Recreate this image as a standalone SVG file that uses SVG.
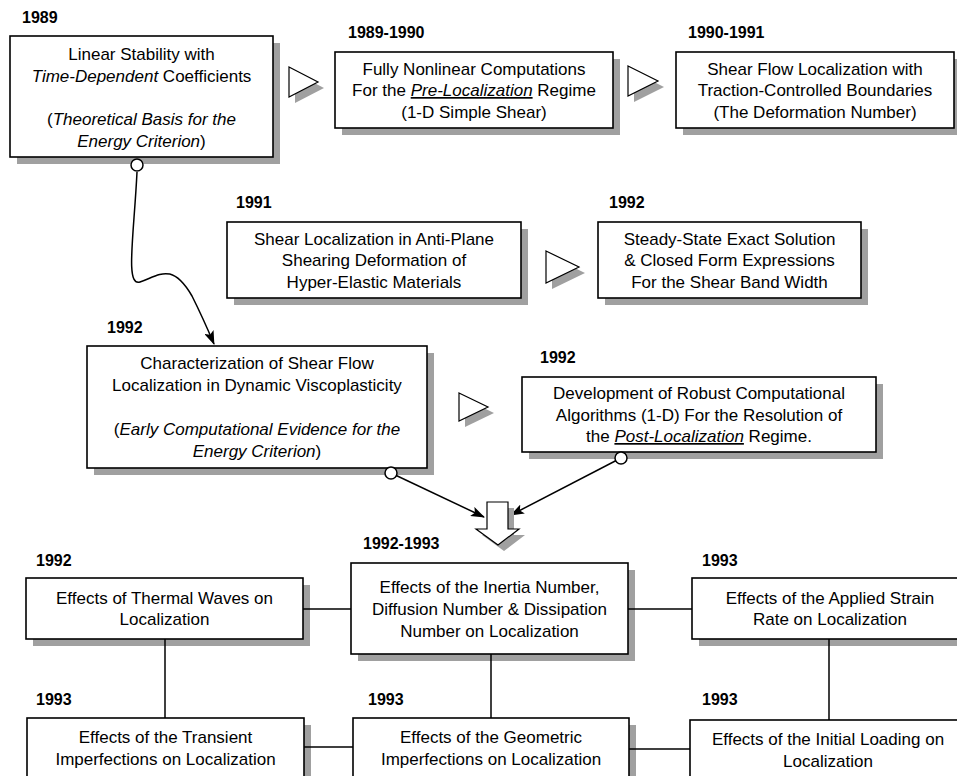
<svg xmlns="http://www.w3.org/2000/svg" width="957" height="776" viewBox="0 0 957 776">
<style>
text{font-family:"Liberation Sans",Arial,Helvetica,sans-serif;fill:#000}
.t{font-size:17px;text-anchor:middle}
.yr{font-size:16px;font-weight:bold}
.i{font-style:italic}
.u{text-decoration:underline}
.box{fill:#fff;stroke:#000;stroke-width:1.6}
.sh{fill:#a0a0a0}
.ln{fill:none;stroke:#000;stroke-width:1.5}
.tri{fill:#fff;stroke:#000;stroke-width:1.2;stroke-linejoin:miter}
.circ{fill:#fff;stroke:#000;stroke-width:1.5}
</style>
<defs>
<marker id="ah" viewBox="0 0 14 10" refX="13" refY="5" markerWidth="14" markerHeight="10" markerUnits="userSpaceOnUse" orient="auto">
<path d="M0,0 L14,5 L0,10 L3,5 z" fill="#000"/>
</marker>
</defs>
<rect width="957" height="776" fill="#fff"/>

<g id="n1989">
<rect class="sh" x="17" y="43" width="263" height="121"/>
<rect class="box" x="10" y="36" width="263" height="121"/>
<text class="yr" x="22" y="23">1989</text>
<text class="t" x="141.5" y="60">Linear Stability with</text>
<text class="t" x="141.5" y="82"><tspan class="i">Time-Dependent</tspan> Coefficients</text>
<text class="t" x="141.5" y="125">(<tspan class="i">Theoretical Basis for the</tspan></text>
<text class="t" x="141.5" y="147"><tspan class="i">Energy Criterion</tspan>)</text>
</g>

<g id="n1989-1990">
<rect class="sh" x="342" y="59" width="278" height="76"/>
<rect class="box" x="335" y="52" width="278" height="76"/>
<text class="yr" x="348" y="38">1989-1990</text>
<text class="t" x="474" y="74.5">Fully Nonlinear Computations</text>
<text class="t" x="474" y="96">For the <tspan class="i u">Pre-Localization</tspan> Regime</text>
<text class="t" x="474" y="117.5">(1-D Simple Shear)</text>
</g>

<g id="n1990-1991">
<rect class="sh" x="683" y="59" width="278" height="76"/>
<rect class="box" x="676" y="52" width="278" height="76"/>
<text class="yr" x="688" y="38">1990-1991</text>
<text class="t" x="815" y="74.5">Shear Flow Localization with</text>
<text class="t" x="815" y="96">Traction-Controlled Boundaries</text>
<text class="t" x="815" y="117.5">(The Deformation Number)</text>
</g>

<g id="n1991">
<rect class="sh" x="234" y="229" width="294" height="76"/>
<rect class="box" x="227" y="222" width="294" height="76"/>
<text class="yr" x="236" y="208">1991</text>
<text class="t" x="374" y="244.5">Shear Localization in Anti-Plane</text>
<text class="t" x="374" y="266">Shearing Deformation of</text>
<text class="t" x="374" y="287.5">Hyper-Elastic Materials</text>
</g>

<g id="n1992a">
<rect class="sh" x="605" y="229" width="263" height="76"/>
<rect class="box" x="598" y="222" width="263" height="76"/>
<text class="yr" x="609" y="208">1992</text>
<text class="t" x="729.5" y="244.5">Steady-State Exact Solution</text>
<text class="t" x="729.5" y="266">&amp; Closed Form Expressions</text>
<text class="t" x="729.5" y="287.5">For the Shear Band Width</text>
</g>

<g id="n1992b">
<rect class="sh" x="94" y="353" width="340" height="122"/>
<rect class="box" x="87" y="346" width="340" height="122"/>
<text class="yr" x="107" y="333">1992</text>
<text class="t" x="257" y="369">Characterization of Shear Flow</text>
<text class="t" x="257" y="391">Localization in Dynamic Viscoplasticity</text>
<text class="t" x="257" y="435">(<tspan class="i">Early Computational Evidence for the</tspan></text>
<text class="t" x="257" y="457"><tspan class="i">Energy Criterion</tspan>)</text>
</g>

<g id="n1992c">
<rect class="sh" x="529" y="384" width="354" height="75"/>
<rect class="box" x="522" y="377" width="354" height="75"/>
<text class="yr" x="540" y="363">1992</text>
<text class="t" x="699" y="399">Development of Robust Computational</text>
<text class="t" x="699" y="421">Algorithms (1-D) For the Resolution of</text>
<text class="t" x="699" y="442">the <tspan class="i u">Post-Localization</tspan> Regime.</text>
</g>

<g id="n1992d">
<rect class="sh" x="33" y="585" width="277" height="61"/>
<rect class="box" x="26" y="578" width="277" height="61"/>
<text class="yr" x="36" y="566">1992</text>
<text class="t" x="164.5" y="603.5">Effects of Thermal Waves on</text>
<text class="t" x="164.5" y="625">Localization</text>
</g>

<g id="n1992-1993">
<rect class="sh" x="358" y="570" width="277" height="91"/>
<rect class="box" x="351" y="563" width="277" height="91"/>
<text class="yr" x="363" y="549">1992-1993</text>
<text class="t" x="489.5" y="592.5">Effects of the Inertia Number,</text>
<text class="t" x="489.5" y="614.5">Diffusion Number &amp; Dissipation</text>
<text class="t" x="489.5" y="636.5">Number on Localization</text>
</g>

<g id="n1993a">
<rect class="sh" x="699" y="585" width="276" height="61"/>
<rect class="box" x="692" y="578" width="276" height="61"/>
<text class="yr" x="702" y="566">1993</text>
<text class="t" x="830" y="603.5">Effects of the Applied Strain</text>
<text class="t" x="830" y="625">Rate on Localization</text>
</g>

<g id="n1993b">
<rect class="sh" x="34" y="725" width="277" height="70"/>
<rect class="box" x="27" y="718" width="277" height="70"/>
<text class="yr" x="36" y="705">1993</text>
<text class="t" x="165.5" y="743">Effects of the Transient</text>
<text class="t" x="165.5" y="765">Imperfections on Localization</text>
</g>

<g id="n1993c">
<rect class="sh" x="360" y="725" width="276" height="70"/>
<rect class="box" x="353" y="718" width="276" height="70"/>
<text class="yr" x="368" y="705">1993</text>
<text class="t" x="491" y="743">Effects of the Geometric</text>
<text class="t" x="491" y="765">Imperfections on Localization</text>
</g>

<g id="n1993d">
<rect class="sh" x="697" y="727" width="276" height="70"/>
<rect class="box" x="690" y="720" width="276" height="70"/>
<text class="yr" x="702" y="705">1993</text>
<text class="t" x="828" y="745">Effects of the Initial Loading on</text>
<text class="t" x="828" y="767">Localization</text>
</g>

<g id="connectors">
<polygon class="sh" points="295,73 324,88 295,103"/>
<polygon class="tri" points="289,67 318,82 289,97"/>
<polygon class="sh" points="634,72 664,87 634,102"/>
<polygon class="tri" points="628,66 658,81 628,96"/>
<polygon class="sh" points="552,257 585,273 552,289"/>
<polygon class="tri" points="546,251 579,267 546,283"/>
<polygon class="sh" points="465,399 494,413 465,427"/>
<polygon class="tri" points="459,393 488,407 459,421"/>
<path class="ln" d="M137,172 C134,235 125,287 140,282 C160,275 172,262 192,296 Q203,318 214,344" marker-end="url(#ah)"/>
<circle class="circ" cx="137" cy="165" r="6"/>
<line class="ln" x1="391" y1="473" x2="484" y2="517" marker-end="url(#ah)"/>
<line class="ln" x1="621" y1="458" x2="511" y2="515" marker-end="url(#ah)"/>
<circle class="circ" cx="391" cy="473" r="6"/>
<circle class="circ" cx="621" cy="458" r="6"/>
<polygon class="sh" points="493,508 514,508 514,535 525,535 504,551 482,535 493,535"/>
<polygon class="tri" stroke-width="1.4" points="487,502 508,502 508,529 519,529 498,545 476,529 487,529"/>
<line class="ln" x1="303" y1="609" x2="351" y2="609"/>
<line class="ln" x1="628" y1="609" x2="692" y2="609"/>
<line class="ln" x1="165" y1="639" x2="165" y2="718"/>
<line class="ln" x1="491" y1="654" x2="491" y2="718"/>
<line class="ln" x1="829" y1="639" x2="829" y2="720"/>
<line class="ln" x1="304" y1="747" x2="353" y2="747"/>
<line class="ln" x1="629" y1="749" x2="690" y2="749"/>
</g>
</svg>
